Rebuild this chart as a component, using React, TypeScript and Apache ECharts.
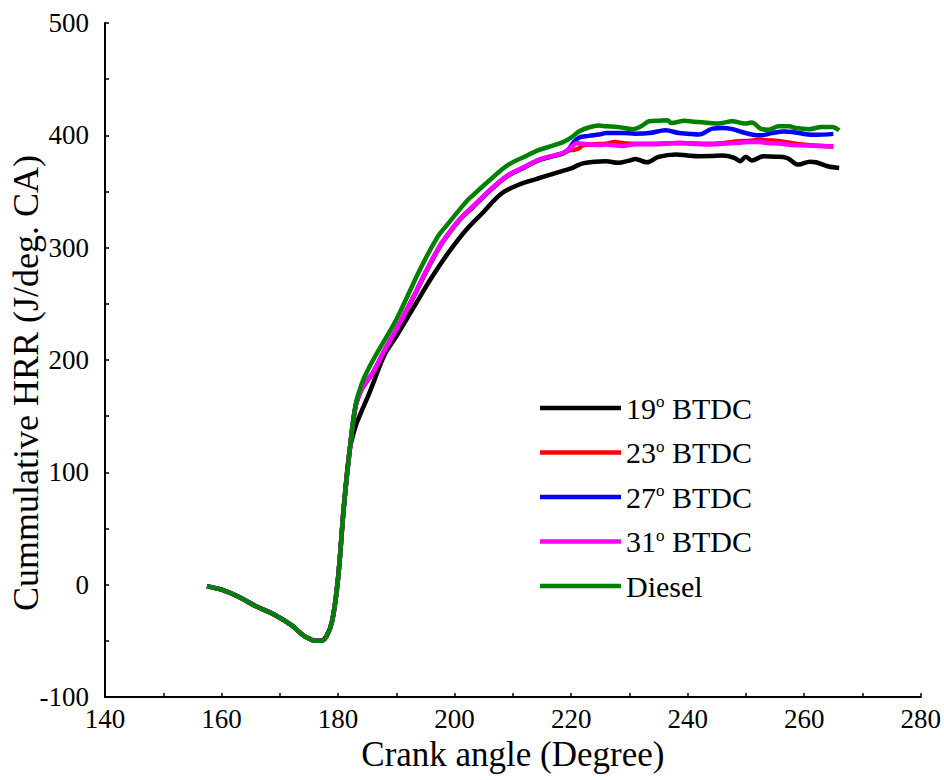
import React, { useEffect, useRef } from 'react';
import * as echarts from 'echarts';

// Shared early part (compression / ignition delay), identical for all cases
const ignitionAngle = [157.5, 160, 163, 166, 169, 172, 174, 175, 176, 177, 178, 179, 180, 181, 182];
const ignitionHrr = [-1.5, -4.5, -11, -19.5, -26.5, -36, -45, -48, -50, -50, -46, -32, 6, 70, 120];

// 19° BTDC
const angle19 = [183, 184, 185, 186, 188, 190, 193, 196, 199, 202, 205, 208, 211, 214, 217, 219, 220, 221, 222, 224, 226, 228, 230, 231, 233, 235, 238, 240, 242, 244, 246, 248, 249, 250, 251, 253, 255, 257, 259, 261, 262, 264, 266];
const hrr19 = [141, 154, 166, 179, 205, 221, 247, 273, 296, 316, 332, 348, 356, 361, 366, 369, 370.5, 373, 375, 376.5, 377, 375.5, 377.5, 379, 376, 380.8, 383, 382, 381.4, 381.5, 382, 380, 377, 381, 377.6, 381.4, 381, 380, 374, 376.5, 376, 372.5, 371];

// 23° BTDC
const angle23 = [183, 184, 185, 186, 188, 190.6, 193, 195, 197.4, 199, 201, 203, 206, 209, 212, 214.5, 217, 218.6, 219.5, 220.3, 221.2, 222, 224, 226, 227.5, 229, 231, 234, 237, 240, 243, 246, 248.7, 250.5, 252.2, 254, 255.6, 258, 260.5, 263, 265];
const hrr23 = [158.5, 173.5, 181.5, 188.5, 208.5, 232.5, 256.5, 277.5, 300.5, 312.5, 325.5, 335.5, 350.5, 363.5, 371.5, 378, 381.5, 384, 386.5, 387, 388, 391, 392, 392.5, 394, 393, 392.5, 392.5, 393, 393, 392.5, 393, 394.7, 395, 396, 395.5, 395, 393, 391.5, 390.5, 390];

// 27° BTDC
const angle27 = [183, 184, 185, 186, 188, 190.6, 193, 195, 197.4, 199, 201, 203, 206, 209, 212, 214.5, 217, 218.6, 219.5, 220.3, 221.4, 223, 224.8, 226, 228.8, 231, 233.4, 236.2, 238.5, 240, 241.9, 244.3, 246, 247.7, 249.6, 251.2, 252.5, 254.5, 256.5, 258, 260.3, 262, 265];
const hrr27 = [158.7, 173.7, 181.7, 188.7, 208.7, 232.7, 256.7, 277.7, 300.7, 312.7, 325.7, 335.7, 350.7, 363.7, 371.7, 378.2, 381.7, 384.2, 387, 393, 398, 399.5, 400.7, 402, 402, 401.5, 402, 404.5, 402, 401.5, 400.7, 406, 406.5, 405.5, 402.5, 400.5, 400, 402, 403.5, 403, 401, 400.5, 401.3];

// 31° BTDC
const angle31 = [183, 184, 185, 186, 188, 190.6, 193, 195, 197.4, 199, 201, 203, 206, 209, 212, 214.5, 217, 218.6, 219.5, 220.3, 221, 222, 224.8, 226, 228.8, 231, 234, 236, 238.5, 241, 243, 246, 248.8, 250.5, 252.2, 254, 255.6, 258, 260.3, 263, 265];
const hrr31 = [159, 174, 182, 189, 209, 233, 257, 278, 301, 313, 326, 336, 351, 364, 372, 378.5, 382, 384.5, 387, 391, 393, 392.5, 391.5, 391.8, 390.5, 392, 392, 392.5, 393.3, 392.5, 391.8, 392.5, 393.5, 394, 394, 393, 392.7, 391.5, 391, 390.5, 390];

// Diesel
const angleDiesel = [183, 184, 185, 187, 190, 194, 197, 198.5, 202, 203, 206, 209, 212, 214.5, 217, 218.6, 220, 221.4, 223, 224.8, 226, 228, 230.6, 232, 233.4, 235, 236.5, 237.2, 239.5, 241, 242.4, 244.8, 246, 247.6, 249.9, 251, 252.5, 253.9, 255.6, 257.4, 258.5, 260.9, 263, 264.8, 266];
const hrrDiesel = [160, 178, 190, 209, 236, 280, 309, 319, 341, 346, 360, 373, 381, 387, 391, 394, 398, 403.6, 407, 408.7, 408, 407.5, 405.5, 408, 412.5, 413, 413.5, 411, 413, 412, 411.7, 410.5, 411, 412.5, 410.5, 411.5, 406, 405, 408, 408, 406.5, 405.5, 407.5, 407.5, 404.5];

const seriesNames = ['19o BTDC', '23o BTDC', '27o BTDC', '31o BTDC', 'Diesel'];
const seriesColors = ['#000000', '#ff0000', '#0000ff', '#ff00ff', '#008000'];
const seriesAngles = [angle19, angle23, angle27, angle31, angleDiesel];
const seriesHrr = [hrr19, hrr23, hrr27, hrr31, hrrDiesel];

const FONT = 'Liberation Serif, Times New Roman, serif';

function buildData(angles: number[], values: number[]) {
  const head = ignitionAngle.map((a, i) => [a, ignitionHrr[i]]);
  const tail = angles.map((a, i) => [a, values[i]]);
  return head.concat(tail);
}

export default function App() {
  const ref = useRef<HTMLDivElement>(null);
  useEffect(() => {
    if (!ref.current) return;
    const chart = echarts.init(ref.current, null, { renderer: 'svg' });
    const option: any = {
      animation: false,
      backgroundColor: '#ffffff',
      textStyle: { fontFamily: FONT },
      grid: { left: 105, right: 22, top: 23, bottom: 83, containLabel: false },
      xAxis: {
        type: 'value',
        min: 140,
        max: 280,
        interval: 10,
        name: 'Crank angle (Degree)',
        nameLocation: 'middle',
        nameGap: 35,
        nameTextStyle: { fontFamily: FONT, fontSize: 35, color: '#000' },
        axisLine: { show: true, onZero: false, lineStyle: { color: '#000', width: 2 } },
        axisTick: { show: true, inside: true, length: 4, lineStyle: { color: '#000', width: 1.5 } },
        axisLabel: {
          fontFamily: FONT,
          fontSize: 27,
          color: '#000',
          margin: 8,
          formatter: (v: number) => (v % 20 === 0 ? String(v) : ''),
        },
        splitLine: { show: false },
      },
      yAxis: {
        type: 'value',
        min: -100,
        max: 500,
        interval: 50,
        axisLine: { show: true, onZero: false, lineStyle: { color: '#000', width: 2 } },
        axisTick: { show: true, inside: true, length: 4, lineStyle: { color: '#000', width: 1.5 } },
        axisLabel: {
          fontFamily: FONT,
          fontSize: 27,
          color: '#000',
          margin: 16,
          formatter: (v: number) => (v % 100 === 0 ? String(v) : ''),
        },
        splitLine: { show: false },
      },
      legend: {
        orient: 'vertical',
        left: 540,
        top: 393,
        padding: 0,
        itemWidth: 81,
        itemHeight: 4.5,
        itemGap: 14.5,
        icon: 'rect',
        data: seriesNames,
        formatter: (name: string) => name.replace(/^(\d+)o /, '$1{sup|o} '),
        textStyle: {
          fontFamily: FONT,
          fontSize: 30,
          lineHeight: 30,
          color: '#000',
          rich: {
            sup: { fontFamily: FONT, fontSize: 17, lineHeight: 17, verticalAlign: 'top', color: '#000' },
          },
        },
      },
      graphic: [
        {
          type: 'text',
          x: 26,
          y: 383,
          rotation: Math.PI / 2,
          style: {
            text: 'Cummulative HRR (J/deg. CA)',
            fontFamily: FONT,
            fontSize: 36,
            fill: '#000',
            align: 'center',
            verticalAlign: 'middle',
          },
        },
      ],
      series: seriesNames.map((name, i) => ({
        name,
        type: 'line',
        data: buildData(seriesAngles[i], seriesHrr[i]),
        showSymbol: false,
        symbol: 'none',
        smooth: 0.35,
        lineStyle: { color: seriesColors[i], width: 4.5 },
        itemStyle: { color: seriesColors[i] },
        z: 2 + i,
      })),
    };
    chart.setOption(option);
    return () => chart.dispose();
  }, []);
  return (
    <div
      ref={ref}
      style={{ position: 'absolute', left: 0, top: 0, width: 944, height: 780, background: '#fff' }}
    />
  );
}
